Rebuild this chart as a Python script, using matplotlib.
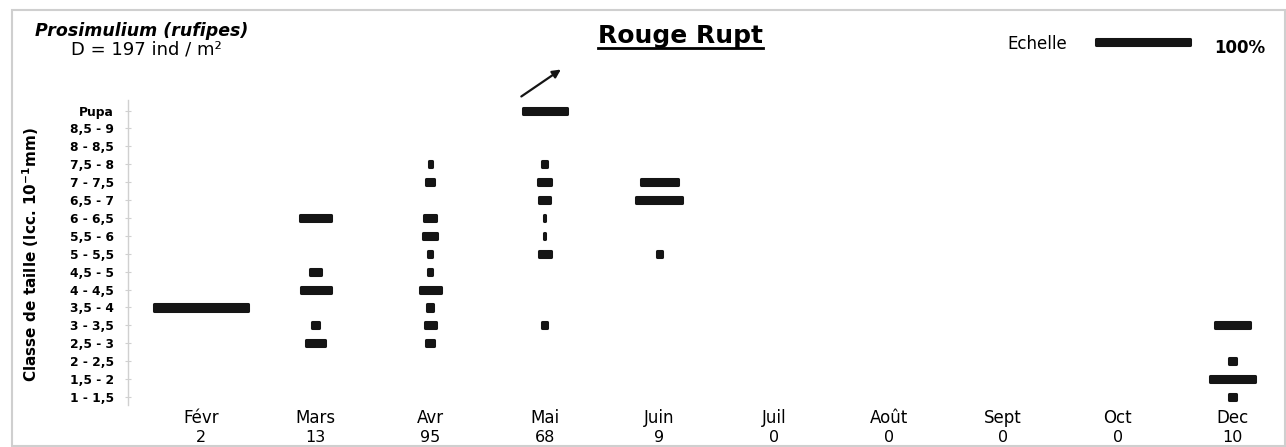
import numpy as np
import matplotlib
matplotlib.use("Agg")
import matplotlib.pyplot as plt
from matplotlib.patches import Rectangle
from matplotlib.lines import Line2D
from matplotlib.transforms import blended_transform_factory

# Size classes, bottom to top
classes = ["1 - 1,5", "1,5 - 2", "2 - 2,5", "2,5 - 3", "3 - 3,5", "3,5 - 4",
           "4 - 4,5", "4,5 - 5", "5 - 5,5", "5,5 - 6", "6 - 6,5", "6,5 - 7",
           "7 - 7,5", "7,5 - 8", "8 - 8,5", "8,5 - 9", "Pupa"]

months = ["Févr", "Mars", "Avr", "Mai", "Juin", "Juil", "Août", "Sept", "Oct", "Dec"]
counts = [2, 13, 95, 68, 9, 0, 0, 0, 0, 10]

# Percentage of individuals in each size class (same order as classes)
pct_fevr = [0, 0, 0, 0, 0, 100, 0, 0, 0, 0, 0, 0, 0, 0, 0, 0, 0]
pct_mars = [0, 0, 0, 20, 7, 0, 32, 11, 0, 0, 33, 0, 0, 0, 0, 0, 0]
pct_avr = [0, 0, 0, 9, 12, 7, 22, 4, 4, 15, 13, 0, 9, 3, 0, 0, 0]
pct_mai = [0, 0, 0, 0, 5, 0, 0, 0, 13, 1, 1, 12, 14, 5, 0, 0, 47]
pct_juin = [0, 0, 0, 0, 0, 0, 0, 0, 5, 0, 0, 49, 40, 0, 0, 0, 0]
pct_juil = [0] * 17
pct_aout = [0] * 17
pct_sept = [0] * 17
pct_oct = [0] * 17
pct_dec = [7, 47, 7, 0, 38, 0, 0, 0, 0, 0, 0, 0, 0, 0, 0, 0, 0]

all_pct = [pct_fevr, pct_mars, pct_avr, pct_mai, pct_juin,
           pct_juil, pct_aout, pct_sept, pct_oct, pct_dec]

W, H = 1286, 447
BAR_COLOR = "#151515"
FULL = 0.82        # width of 100% in month units
BAR_H = 0.34       # face height of a bar, in class rows
EDGE = 2.2         # edge width (pt), gives the rounded minimum size

AX_TOP, AX_BOTTOM = 100, 405


def px(x, y):
    """pixel position (from top left) -> figure fraction"""
    return x / W, 1 - y / H


fig = plt.figure(figsize=(W / 100, H / 100), dpi=100)
ax = fig.add_axes([128 / W, 1 - AX_BOTTOM / H, (1284 - 128) / W,
                   (AX_BOTTOM - AX_TOP) / H])

rows = np.arange(len(classes))
for i, pct in enumerate(all_pct):
    pct = np.array(pct, dtype=float)
    keep = pct > 0
    if not keep.any():
        continue
    widths = pct[keep] / 100 * FULL
    ax.barh(rows[keep], widths, left=i - widths / 2, height=BAR_H,
            color=BAR_COLOR, edgecolor=BAR_COLOR, linewidth=EDGE,
            joinstyle="round")

# arrow over the pupae of May
mai = months.index("Mai")
pupa = classes.index("Pupa")
ax.annotate("", xy=(mai + 0.16, pupa + 2.38), xytext=(mai - 0.225, pupa + 0.7),
            arrowprops=dict(arrowstyle="-|>", color=BAR_COLOR, lw=1.6,
                            mutation_scale=12),
            annotation_clip=False)

# scale bar (100%)
ax.barh([19.83], [FULL], left=7.81, height=BAR_H, color=BAR_COLOR,
        edgecolor=BAR_COLOR, linewidth=EDGE, joinstyle="round", clip_on=False)

ax.set_xlim(-0.637, 9.45)
ax.set_ylim(-0.447, 16.59)

ax.set_yticks(rows)
ax.set_yticklabels(classes, fontsize=8.8, fontweight="bold")
ax.set_xticks(np.arange(len(months)))
ax.set_xticklabels(months, fontsize=12)
ax.tick_params(axis="x", length=0, pad=3)
ax.tick_params(axis="y", length=4, direction="inout", color="#d0d0d0", pad=8)

# number of individuals under each month
trans = blended_transform_factory(ax.transData, fig.transFigure)
for i, c in enumerate(counts):
    ax.text(i, 1 - 437 / H, str(c), transform=trans, fontsize=11.5,
            ha="center", va="center", clip_on=False)

for side in ["top", "right", "bottom"]:
    ax.spines[side].set_visible(False)
ax.spines["left"].set_color("#d0d0d0")
ax.spines["left"].set_linewidth(1.0)

ax.set_ylabel(r"Classe de taille (lcc. 10$^{\mathbf{-1}}$mm)",
              fontsize=11, fontweight="bold")
ax.yaxis.set_label_coords((41 - 128) / (1284 - 128),
                          (AX_BOTTOM - 255) / (AX_BOTTOM - AX_TOP))

# header texts
fig.text(*px(35, 36), "Prosimulium (rufipes)", fontsize=12.5,
         fontweight="bold", fontstyle="italic", va="baseline")
fig.text(*px(71, 55), "D = 197 ind / m²", fontsize=13, va="baseline")
title = fig.text(*px(598, 43), "Rouge Rupt", fontsize=18,
                 fontweight="bold", va="baseline")
fig.text(*px(1007, 49), "Echelle", fontsize=12, va="baseline")
fig.text(*px(1214, 53), "100%", fontsize=12, fontweight="bold", va="baseline")

# underline the title
fig.canvas.draw()
bb = title.get_window_extent()
uy = 1 - 48 / H
fig.add_artist(Line2D([bb.x0 / W, bb.x1 / W], [uy, uy],
                      transform=fig.transFigure, color="black", lw=2))

# light frame around the chart
fig.add_artist(Rectangle(px(12, 446), (1285 - 12) / W, (446 - 10) / H,
                         transform=fig.transFigure, fill=False,
                         edgecolor="#cfcfcf", lw=1.5))

fig.savefig("out.png", dpi=100)
